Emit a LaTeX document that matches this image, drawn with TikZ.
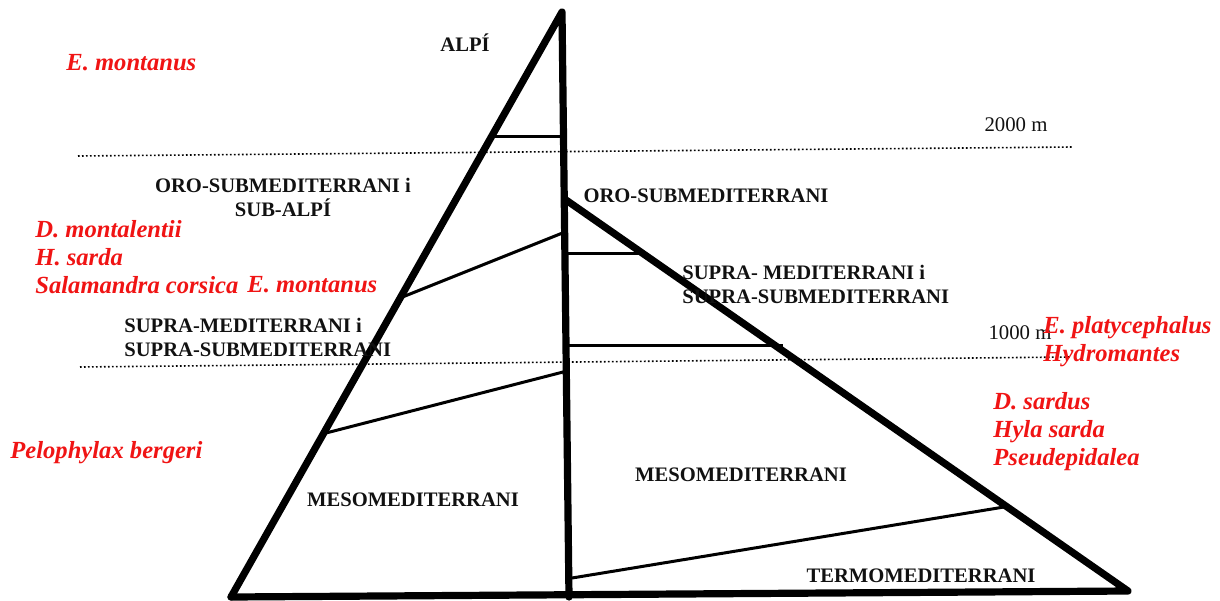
\documentclass[tikz,border=0pt]{standalone}
\usepackage{fontspec}
\setmainfont{Liberation Serif}
\usepackage{tikz}
\usetikzlibrary{calc}
\definecolor{speciesred}{HTML}{F01414}
\definecolor{inkblack}{HTML}{111111}

\begin{document}
\begin{tikzpicture}[
  x=0.5pt, y=-0.5pt,
  belt/.style={font=\fontsize{10.3}{12}\selectfont\bfseries, text=inkblack,
               inner sep=0pt, align=center},
  species/.style={font=\fontsize{12.3}{14}\selectfont\bfseries\itshape,
                  text=speciesred, inner sep=0pt, align=left, anchor=west},
  height/.style={font=\fontsize{10.4}{12}\selectfont, text=inkblack, inner sep=0pt},
  edge/.style={line width=3.6pt, line cap=round, line join=round},
  limit/.style={line width=1.5pt},
  level/.style={line width=0.8pt, dash pattern=on 0.8pt off 1.2pt},
]
  \useasboundingbox (0,0) rectangle (1220,600);

  % corners of the two profiles
  \coordinate (apex) at (562,12);
  \coordinate (bl) at (231,597);
  \coordinate (bm) at (569,597);
  \coordinate (rtop) at (566,200);
  \coordinate (br) at (1128,591);

  % altitude levels
  \coordinate (l2a) at (78,156);   \coordinate (l2b) at (1072,147);
  \coordinate (l1a) at (80,367);   \coordinate (l1b) at (1070,357);
  \draw[level] (l2a) -- (l2b);
  \draw[level] (l1a) -- (l1b);
  \node[height] (m2000) at (1016,125) {2000 m};
  \node[height] (m1000) at (1020,333) {1000 m};

  % belt limits
  \coordinate (a1) at (494,136);  \coordinate (b1) at (562,136);
  \coordinate (a2) at (400,298);  \coordinate (b2) at (565,232);
  \coordinate (a3) at (326,433);  \coordinate (b3) at (567,371);
  \coordinate (a4) at (567,253);  \coordinate (b4) at (639,253);
  \coordinate (a5) at (568,345);  \coordinate (b5) at (783,345);
  \coordinate (a6) at (572,578);  \coordinate (b6) at (1004,507);
  \foreach \from/\to in {a1/b1, a2/b2, a3/b3, a4/b4, a5/b5, a6/b6} {
    \draw[limit] (\from) -- (\to);
  }

  \draw[edge] (bl) -- (apex) -- (bm);
  \draw[edge] (rtop) -- (br) -- (bl);

  % belts
  \node[belt] (alpi) at (465,43) {ALPÍ};
  \node[belt] (orosubl) at (283,197) {ORO-SUBMEDITERRANI i\\SUB-ALPÍ};
  \node[belt] (orosubr) at (706,196) {ORO-SUBMEDITERRANI};
  \node[belt, align=left, anchor=west] (supral) at (124,337)
    {SUPRA-MEDITERRANI i\\SUPRA-SUBMEDITERRANI};
  \node[belt, align=left, anchor=west] (suprar) at (682,284)
    {SUPRA- MEDITERRANI i\\SUPRA-SUBMEDITERRANI};
  \node[belt] (mesol) at (413,500) {MESOMEDITERRANI};
  \node[belt] (mesor) at (741,475) {MESOMEDITERRANI};
  \node[belt] (termo) at (921,576) {TERMOMEDITERRANI};

  % species
  \node[species] (spalpi) at (66,63) {E. montanus};
  \node[species] (sporo) at (35,257) {D. montalentii\\H. sarda\\Salamandra corsica};
  \node[species] (sporo2) at (247,285) {E. montanus};
  \node[species] (spmeso) at (10,453) {Pelophylax bergeri};
  \node[species] (spsupra) at (1043,342) {E. platycephalus\\Hydromantes};
  \node[species] (spmesor) at (993,432) {D. sardus\\Hyla sarda\\Pseudepidalea};
\end{tikzpicture}
\end{document}
